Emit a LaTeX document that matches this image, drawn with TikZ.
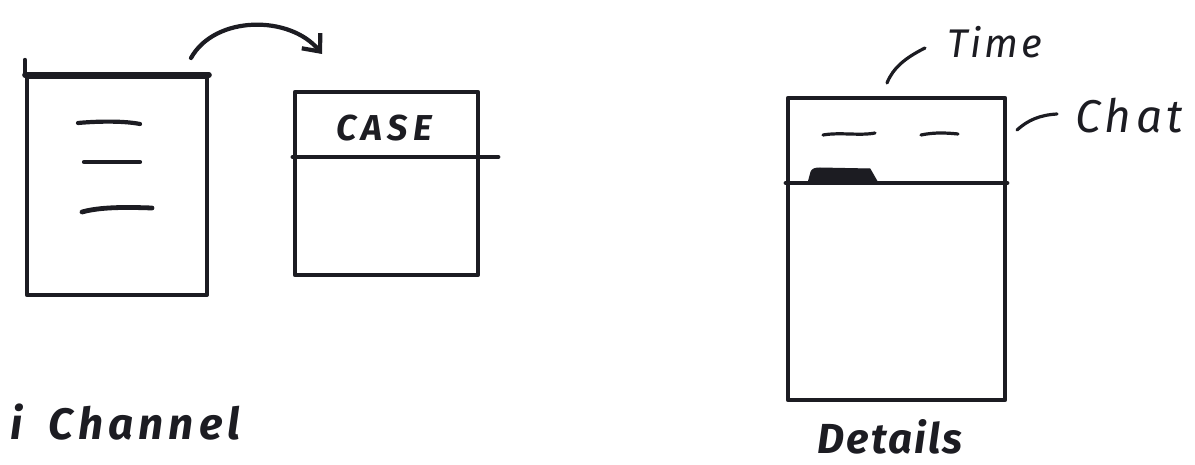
\documentclass[tikz,border=0pt]{standalone}
\usepackage{fontspec}
\setmainfont{Fira Sans}
\usetikzlibrary{arrows.meta}
\definecolor{ink}{RGB}{28,28,34}
\newcommand\handsz[2]{\fontsize{#1}{#1}\selectfont\itshape\addfontfeature{LetterSpace=#2}}
\tikzset{
  sketch/.style={draw=ink, line width=4.2pt, line cap=round, line join=round},
  thin/.style={sketch, line width=3.2pt},
  boxnode/.style={sketch, rectangle, inner sep=0pt},
  hand/.style={text=ink, inner sep=0pt},
  lbl/.style={hand, anchor=west},
}
\begin{document}
\begin{tikzpicture}[x=1pt, y=-1pt]
\useasboundingbox (0,0) rectangle (1195,465);
% left list box
\node[boxnode, minimum width=180pt, minimum height=218pt] (list) at (117,186) {};
\draw[sketch, line width=5.4pt] (list.north west) -- (list.north east);
\draw[sketch] (list.north west) -- ++(0,-15);
\draw[sketch] (78,123) .. controls (100,121) and (125,121) .. (140,124);
\draw[sketch] (84,162) -- (140,162);
\draw[sketch, line width=4.8pt] (82,212) .. controls (100,207) and (125,207) .. (152,208);
% arrow
\coordinate (a0) at (191,58);
\coordinate (a1) at (322,54);
\draw[sketch, -{Straight Barb[length=14pt, width=24pt, line width=4.2pt]}] (a0) .. controls (215,15) and (290,15) .. (a1);
% case box
\node[boxnode, minimum width=183pt, minimum height=183pt] (case) at (386.5,183.5) {};
\draw[sketch, line width=4.8pt] (case.west |- 0,157) -- (498,157);
\node[hand, font=\handsz{36}{14}\bfseries] (casetxt) at (384,128) {CASE};
% details box
\node[boxnode, minimum width=217pt, minimum height=302pt] (det) at (896.5,249) {};
\draw[sketch, line width=4.6pt] (det.west |- 0,183) -- (det.east |- 0,183);
\draw[thin] (823,135) .. controls (840,132) and (860,136) .. (875,133);
\draw[thin] (921,135) .. controls (935,132) and (948,133) .. (958,134);
\draw[ink, fill=ink, line width=1pt] (808,183) -- (811,172) .. controls (812,169) and (815,168) .. (820,168) -- (870,169) -- (878,183) -- cycle;
% annotations
\coordinate (t0) at (887,83);
\coordinate (t1) at (925,48);
\draw[thin] (t0) .. controls (893,68) and (905,58) .. (t1);
\node[lbl, font=\handsz{40}{7}] (time) at (947,42) {Time};
\coordinate (c0) at (1017,130);
\coordinate (c1) at (1057,114);
\draw[thin] (c0) .. controls (1028,120) and (1040,115) .. (c1);
\node[lbl, font=\handsz{46}{10}] (chat) at (1075,116) {Chat};
\node[hand, font=\handsz{42}{5}\bfseries] (dettxt) at (890,437) {Details};
\node[lbl, font=\handsz{44}{12}\bfseries] (chan) at (10,422) {i\hspace{26pt}Channel};
\end{tikzpicture}
\end{document}
